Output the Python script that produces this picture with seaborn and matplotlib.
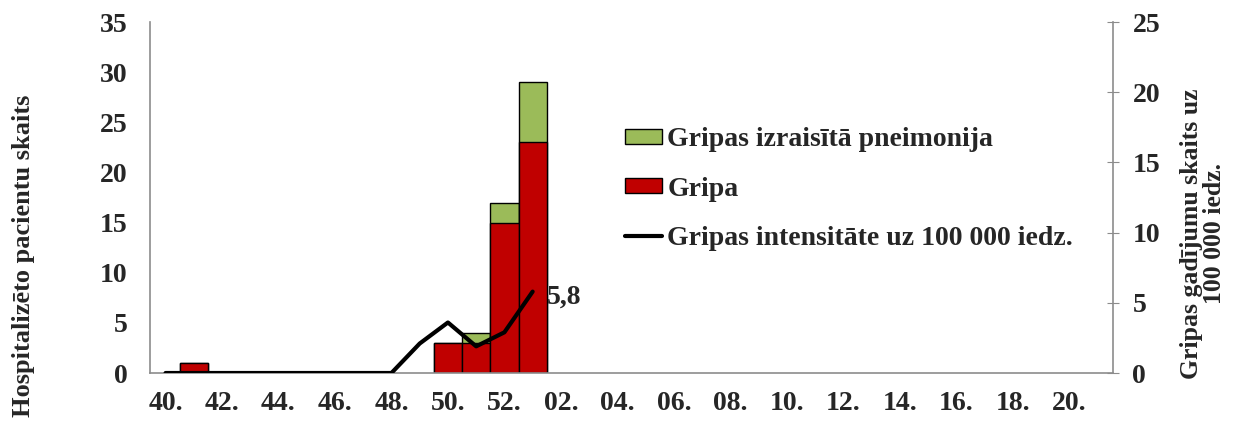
import matplotlib
matplotlib.use("Agg")
import matplotlib.pyplot as plt
import seaborn as sns
import pandas as pd
import numpy as np
from matplotlib.patches import Patch
from matplotlib.lines import Line2D

# weeks of the season, 40..52 then 1..21
weeks = list(range(40, 53)) + list(range(1, 22))
gripa = [0, 1, 0, 0, 0, 0, 0, 0, 0, 0, 3, 3, 15, 23] + [0] * 20
pneimonija = [0, 0, 0, 0, 0, 0, 0, 0, 0, 0, 0, 1, 2, 6] + [0] * 20
intensitate = [0, 0, 0, 0, 0, 0, 0, 0, 0, 2.1, 3.6, 1.9, 2.9, 5.8]
tick_labels = [f"{w:02d}." if w < 10 else f"{w}." for w in weeks]

sns.set_style("white")
plt.rcParams['font.family'] = ['Liberation Serif', 'DejaVu Serif']
plt.rcParams['font.weight'] = 'bold'

df = pd.DataFrame({
    "week": [str(w) for w in weeks],
    "gripa": gripa,
    "total": np.array(gripa) + np.array(pneimonija),
})

fig = plt.figure(figsize=(12.47, 4.26), dpi=100)
ax = fig.add_axes([0.1203, 0.1244, 0.7722, 0.8236])

green = "#9BBB59"
red = "#C00000"
sns.barplot(data=df, x="week", y="total", order=df["week"], color=green,
            width=1.0, edgecolor="black", linewidth=1, saturation=1, ax=ax)
sns.barplot(data=df, x="week", y="gripa", order=df["week"], color=red,
            width=1.0, edgecolor="black", linewidth=1, saturation=1, ax=ax)
# hide zero-height bar outlines
for p in ax.patches:
    if p.get_height() == 0:
        p.set_visible(False)

ax.set_xlim(-0.55, 33.55)
ax.set_ylim(0, 35)
ax.set_yticks(range(0, 36, 5))
ax.set_xticks(range(0, len(weeks), 2))
ax.set_xticklabels(tick_labels[::2])
ax.set_xlabel("")
ax.set_ylabel("")
ax.tick_params(axis="x", length=0, labelsize=20, pad=13)
ax.tick_params(axis="y", length=0, labelsize=20, pad=16)
for s in ["top", "right"]:
    ax.spines[s].set_visible(False)
for s in ["left", "bottom"]:
    ax.spines[s].set_color("#8c8c8c")
    ax.spines[s].set_linewidth(1.2)

ax2 = ax.twinx()
sns.lineplot(x=np.arange(len(intensitate)), y=intensitate, ax=ax2,
             color="black", linewidth=3)
ax2.set_ylim(0, 25)
ax2.set_yticks(range(0, 26, 5))
ax2.tick_params(axis="y", direction="inout", length=8, color="#8c8c8c",
                labelsize=20, pad=10)
for s in ["top", "left", "bottom"]:
    ax2.spines[s].set_visible(False)
ax2.spines["right"].set_color("#8c8c8c")
ax2.spines["right"].set_linewidth(1.2)
ax2.text(len(intensitate) - 1 + 0.5, intensitate[-1] - 0.4, "5,8",
         fontsize=20, fontweight="bold", va="center", ha="left")

fig.text(0.019, 0.40, "Hospitalizēto pacientu skaits", rotation=90,
         fontsize=19, fontweight="bold", ha="center", va="center")
fig.text(0.965, 0.452, "Gripas gadījumu skaits uz\n100 000 iedz.", rotation=90,
         fontsize=18.5, fontweight="bold", ha="center", va="center",
         multialignment="center", linespacing=1.0)

handles = [
    Patch(facecolor=green, edgecolor="black", linewidth=1),
    Patch(facecolor=red, edgecolor="black", linewidth=1),
    Line2D([0], [0], color="black", linewidth=3),
]
labels = ["Gripas izraisītā pneimonija", "Gripa",
          "Gripas intensitāte uz 100 000 iedz."]
fig.legend(handles, labels, loc="upper left", bbox_to_anchor=(0.501, 0.701),
           frameon=False, fontsize=20, handlelength=1.33, handleheight=0.45,
           handletextpad=0.2, labelspacing=0.87, borderpad=0, borderaxespad=0)

fig.savefig("out.png", dpi=100)
